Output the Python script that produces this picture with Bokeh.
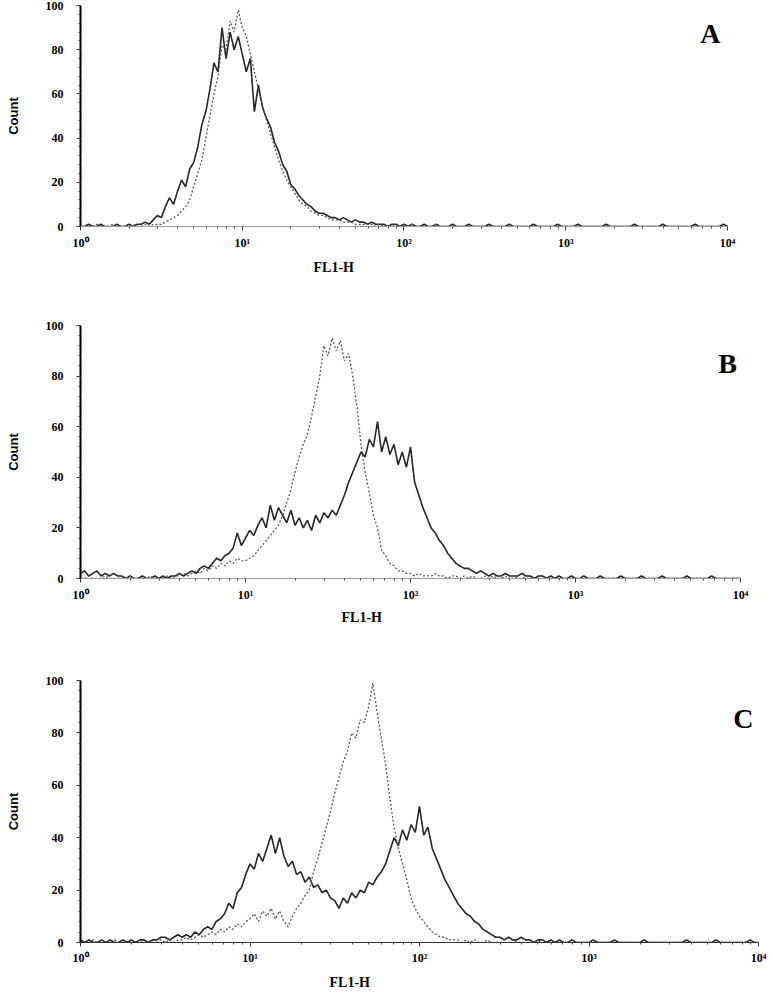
import numpy as np
from bokeh.plotting import figure
from bokeh.models import Range1d, FixedTicker, Label, Title
from bokeh.layouts import column
from bokeh.embed import file_html
from bokeh.resources import INLINE

# channel positions, in decades of FL1-H (0 .. 4 in steps of 0.025)
log_channel = np.round(np.arange(161) * 0.025, 3)
fl1_h = 10 ** log_channel

x_tick_values = [1, 10, 100, 1000, 10000]
x_tick_labels = ["10\u2070", "10\u00b9", "10\u00b2", "10\u00b3", "10\u2074"]
y_tick_values = [0, 20, 40, 60, 80, 100]

# Panel A
A_solid = [0, 0, 1, 0, 0, 1, 0, 0, 0, 1, 0, 0, 1, 0, 1, 1, 2, 1, 3, 5,
           4, 9, 13, 10, 16, 21, 18, 26, 29, 36, 46, 52, 62, 74, 70, 90, 76, 88, 80, 86,
           78, 70, 76, 52, 64, 54, 49, 45, 38, 34, 28, 25, 19, 17, 14, 12, 10, 9, 7, 6,
           6, 5, 4, 4, 3, 4, 3, 2, 3, 2, 2, 1, 2, 1, 1, 1, 0, 1, 1, 0,
           1, 0, 1, 0, 0, 1, 0, 0, 1, 0, 0, 0, 1, 0, 0, 0, 1, 0, 0, 0,
           0, 1, 0, 0, 0, 0, 1, 0, 0, 0, 0, 0, 1, 0, 0, 0, 0, 0, 1, 0,
           0, 0, 0, 1, 0, 0, 0, 0, 0, 0, 1, 0, 0, 0, 0, 0, 0, 1, 0, 0,
           0, 0, 0, 0, 1, 0, 0, 0, 0, 0, 0, 0, 1, 0, 0, 0, 0, 0, 0, 1,
           0]
A_dotted = [0, 0, 0, 0, 1, 0, 0, 0, 1, 0, 0, 0, 0, 1, 0, 0, 1, 0, 1, 1,
            1, 2, 3, 4, 5, 7, 9, 12, 18, 24, 30, 40, 50, 60, 68, 82, 80, 93, 88, 98,
            90, 86, 78, 70, 62, 55, 48, 42, 36, 30, 25, 21, 18, 15, 12, 10, 9, 7, 6, 5,
            5, 4, 3, 3, 3, 2, 2, 2, 1, 1, 1, 1, 1, 0, 1, 0, 0, 1, 0, 0,
            0, 0, 1, 0, 0, 0, 0, 0, 1, 0, 0, 0, 0, 0, 0, 0, 0, 0, 0, 0,
            0, 0, 0, 0, 0, 0, 0, 0, 0, 0, 0, 0, 0, 0, 0, 0, 0, 0, 0, 0,
            0, 0, 0, 0, 0, 0, 0, 0, 0, 0, 0, 0, 0, 0, 0, 0, 0, 0, 0, 0,
            0, 0, 0, 0, 0, 0, 0, 0, 0, 0, 0, 0, 0, 0, 0, 0, 0, 0, 0, 0,
            0]

# Panel B
B_solid = [2, 3, 1, 2, 3, 1, 2, 1, 2, 1, 1, 0, 1, 0, 0, 1, 0, 0, 1, 0,
           1, 0, 1, 1, 2, 1, 2, 3, 2, 4, 5, 4, 6, 8, 7, 9, 10, 12, 18, 13,
           16, 19, 17, 21, 24, 20, 29, 23, 28, 25, 22, 27, 21, 24, 20, 23, 19, 25, 22, 26,
           24, 27, 25, 29, 33, 38, 42, 46, 50, 48, 55, 52, 62, 50, 56, 49, 53, 45, 50, 44,
           52, 38, 33, 28, 24, 20, 18, 15, 13, 10, 8, 6, 5, 4, 4, 3, 2, 3, 2, 1,
           2, 1, 1, 2, 1, 1, 1, 2, 1, 1, 0, 1, 1, 0, 1, 0, 1, 0, 0, 1,
           0, 0, 1, 0, 0, 0, 1, 0, 0, 0, 0, 1, 0, 0, 0, 0, 1, 0, 0, 0,
           0, 1, 0, 0, 0, 0, 0, 1, 0, 0, 0, 0, 0, 1, 0, 0, 0, 0, 0, 0,
           0]
B_dotted = [0, 0, 1, 0, 0, 0, 1, 0, 0, 0, 0, 0, 1, 0, 0, 0, 0, 1, 0, 0,
            0, 1, 0, 1, 1, 2, 1, 2, 3, 2, 4, 3, 5, 4, 6, 5, 7, 6, 8, 7,
            7, 8, 9, 11, 13, 15, 17, 19, 21, 25, 30, 35, 42, 48, 53, 57, 64, 72, 80, 92,
            88, 95, 90, 94, 86, 89, 80, 68, 53, 42, 34, 25, 20, 11, 9, 6, 5, 3, 3, 2,
            2, 1, 2, 1, 1, 1, 2, 1, 1, 0, 1, 1, 0, 1, 0, 1, 0, 0, 1, 0,
            1, 0, 0, 1, 0, 1, 0, 0, 1, 0, 0, 0, 1, 0, 0, 0, 0, 0, 0, 0,
            0, 0, 0, 0, 0, 0, 0, 0, 0, 0, 0, 0, 0, 0, 0, 0, 0, 0, 0, 0,
            0, 0, 0, 0, 0, 0, 0, 0, 0, 0, 0, 0, 0, 0, 0, 0, 0, 0, 0, 0,
            0]

# Panel C
C_solid = [1, 0, 1, 0, 0, 1, 0, 1, 0, 0, 1, 0, 1, 0, 1, 1, 0, 1, 1, 2,
           2, 1, 2, 3, 2, 3, 2, 4, 3, 5, 6, 5, 8, 9, 11, 15, 13, 19, 21, 26,
           30, 28, 34, 31, 36, 41, 34, 40, 33, 29, 31, 26, 27, 23, 25, 21, 22, 19, 20, 17,
           16, 13, 17, 15, 19, 17, 20, 19, 23, 22, 25, 27, 30, 35, 40, 37, 43, 39, 45, 42,
           52, 41, 44, 36, 32, 28, 24, 21, 18, 15, 13, 11, 10, 8, 7, 5, 4, 3, 2, 2,
           1, 2, 1, 1, 2, 1, 1, 0, 1, 1, 0, 1, 0, 1, 0, 0, 1, 0, 0, 0,
           0, 1, 0, 0, 0, 0, 1, 0, 0, 0, 0, 0, 0, 1, 0, 0, 0, 0, 0, 0,
           0, 0, 0, 1, 0, 0, 0, 0, 0, 0, 1, 0, 0, 0, 0, 0, 0, 0, 1, 0,
           0]
C_dotted = [0, 0, 0, 1, 0, 0, 0, 0, 1, 0, 0, 0, 0, 0, 1, 0, 0, 0, 0, 1,
            0, 1, 0, 1, 1, 2, 1, 2, 3, 2, 3, 4, 3, 5, 4, 6, 5, 7, 6, 8,
            9, 11, 8, 12, 10, 13, 9, 12, 8, 6, 10, 13, 15, 18, 20, 27, 32, 38, 44, 50,
            57, 63, 69, 73, 80, 78, 85, 84, 90, 99, 88, 78, 68, 55, 44, 36, 30, 24, 17, 13,
            10, 8, 6, 4, 3, 2, 2, 1, 1, 1, 0, 1, 0, 1, 0, 0, 1, 0, 0, 0,
            0, 0, 1, 0, 0, 0, 0, 0, 0, 1, 0, 0, 0, 0, 0, 0, 0, 0, 0, 0,
            0, 0, 0, 0, 0, 0, 0, 0, 0, 0, 0, 0, 0, 0, 0, 0, 0, 0, 0, 0,
            0, 0, 0, 0, 0, 0, 0, 0, 0, 0, 0, 0, 0, 0, 0, 0, 0, 0, 0, 0,
            0]

for s in (A_solid, A_dotted, B_solid, B_dotted, C_solid, C_dotted):
    assert len(s) == len(log_channel), len(s)

SERIF = "Liberation Serif"
SANS = "Liberation Sans"

x_minor = [k * 10 ** d for d in range(4) for k in range(2, 10)]
y_minor = list(range(0, 101, 4))


def make_panel(solid, dotted, letter, letter_x, letter_y, x_end,
               lab_offset, lab_standoff, tick_standoff,
               height, mbt, mbb, xaxis_color):
    p = figure(width=773, height=height, x_axis_type="log",
               x_range=Range1d(1, x_end), y_range=Range1d(0, 100),
               output_backend="svg", toolbar_location=None,
               min_border_top=mbt, min_border_bottom=mbb,
               min_border_left=80, min_border_right=15)
    p.outline_line_color = None
    p.xgrid.visible = False
    p.ygrid.visible = False
    p.background_fill_color = "white"
    p.border_fill_color = "white"

    p.line(fl1_h, solid, line_color="#262626", line_width=1.6)
    p.line(fl1_h, dotted, line_color="#555555", line_width=1.3, line_dash="2 2")

    xa = p.xaxis[0]
    xa.bounds = (1, 10000)
    xa.ticker = FixedTicker(ticks=x_tick_values, minor_ticks=x_minor)
    xa.major_label_overrides = {v: t for v, t in zip(x_tick_values, x_tick_labels)}
    xa.axis_line_color = xaxis_color
    xa.axis_line_width = 1
    xa.major_tick_in = 0
    xa.major_tick_out = 4
    xa.minor_tick_in = 0
    xa.minor_tick_out = 2
    xa.major_tick_line_color = "#333333"
    xa.minor_tick_line_color = "#444444"
    xa.major_label_standoff = tick_standoff
    xa.major_label_text_font = SERIF
    xa.major_label_text_font_style = "bold"
    xa.major_label_text_font_size = "12px"
    xa.major_label_text_color = "black"

    ya = p.yaxis[0]
    ya.ticker = FixedTicker(ticks=y_tick_values, minor_ticks=y_minor)
    ya.axis_line_color = "black"
    ya.axis_line_width = 2
    ya.major_tick_in = 0
    ya.major_tick_out = 4
    ya.minor_tick_in = 0
    ya.minor_tick_out = 2
    ya.major_tick_line_color = "#333333"
    ya.minor_tick_line_color = "#444444"
    ya.major_label_standoff = 13
    ya.major_label_text_font = SERIF
    ya.major_label_text_font_style = "bold"
    ya.major_label_text_font_size = "12px"
    ya.major_label_text_color = "black"
    ya.axis_label = "Count"
    ya.axis_label_standoff = 22
    ya.axis_label_text_font = SANS
    ya.axis_label_text_font_style = "bold"
    ya.axis_label_text_font_size = "13px"
    ya.axis_label_text_color = "black"

    p.add_layout(Title(text="FL1-H", align="left", offset=lab_offset,
                       standoff=lab_standoff, text_font=SERIF,
                       text_font_style="bold", text_font_size="14px",
                       text_color="black"), "below")
    p.add_layout(Label(x=letter_x, y=letter_y, text=letter,
                       text_align="center", text_baseline="middle",
                       text_font=SERIF, text_font_style="bold",
                       text_font_size="28px", text_color="black"))
    return p


pA = make_panel(A_solid, A_dotted, "A", 7850, 87.4, 15550,
                233, 10, 5, 281, 5, 55, "#999999")
pB = make_panel(B_solid, B_dotted, "B", 8340, 85, 12850,
                261, 6, 5, 349, 44, 52, "#999999")
pC = make_panel(C_solid, C_dotted, "C", 8150, 85.5, 10000,
                249, 10, 4, 365, 50, 53, "#333333")

layout = column(pA, pB, pC, spacing=0)
open("out.html", "w").write(file_html(layout, INLINE))
